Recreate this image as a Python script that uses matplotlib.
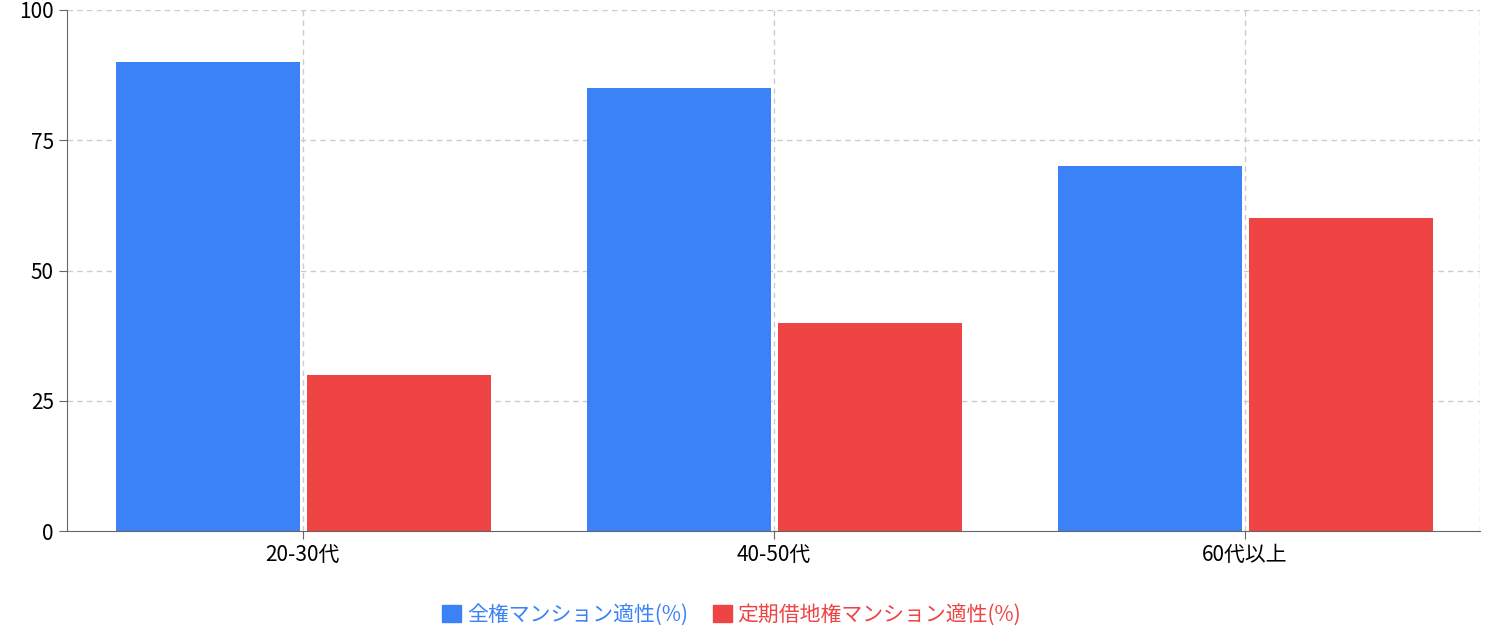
import matplotlib.pyplot as plt
import numpy as np
from matplotlib.patches import Patch

plt.rcParams["font.family"] = ["Noto Sans CJK JP", "DejaVu Sans"]

categories = ["20-30代", "40-50代", "60代以上"]
full_own = [90, 85, 70]
leasehold = [30, 40, 60]
series_names = ["全権マンション適性(%)", "定期借地権マンション適性(%)"]
yticks = [0, 25, 50, 75, 100]

blue = "#3b82f6"
red = "#ef4444"

fig = plt.figure(figsize=(14.93, 6.41), dpi=100)
ax = fig.add_axes([0.0449, 0.1716, 0.9464, 0.8128])

x = np.arange(len(categories))
ax.bar(x - 0.2, full_own, width=0.39, color=blue, zorder=2)
ax.bar(x + 0.205, leasehold, width=0.39, color=red, zorder=2)

ax.set_xlim(-0.5, 2.5)
ax.set_ylim(0, 100)
ax.set_xticks(x)
ax.set_xticklabels(categories, fontsize=15)
ax.set_yticks(yticks)
ax.set_yticklabels([str(v) for v in yticks], fontsize=15)

grid_kw = dict(color="#cccccc", linestyle=(0, (4, 3)), linewidth=1, zorder=1)
for v in yticks[1:]:
    ax.axhline(v, **grid_kw)
for xi in list(x) + [2.5]:
    ax.axvline(xi, **grid_kw)

for s in ["top", "right"]:
    ax.spines[s].set_visible(False)
ax.spines["left"].set_color("#666666")
ax.spines["bottom"].set_color("#666666")
ax.tick_params(axis="both", colors="#666666", labelcolor="black", length=6)

handles = [Patch(color=blue), Patch(color=red)]
leg = fig.legend(handles, series_names, loc="lower center", ncol=2, frameon=False,
                 fontsize=15, bbox_to_anchor=(0.49, -0.005), handlelength=0.9,
                 handleheight=0.9, handletextpad=0.3, columnspacing=1.2)
for t, c in zip(leg.get_texts(), [blue, red]):
    t.set_color(c)

fig.savefig("out.png", dpi=100)
